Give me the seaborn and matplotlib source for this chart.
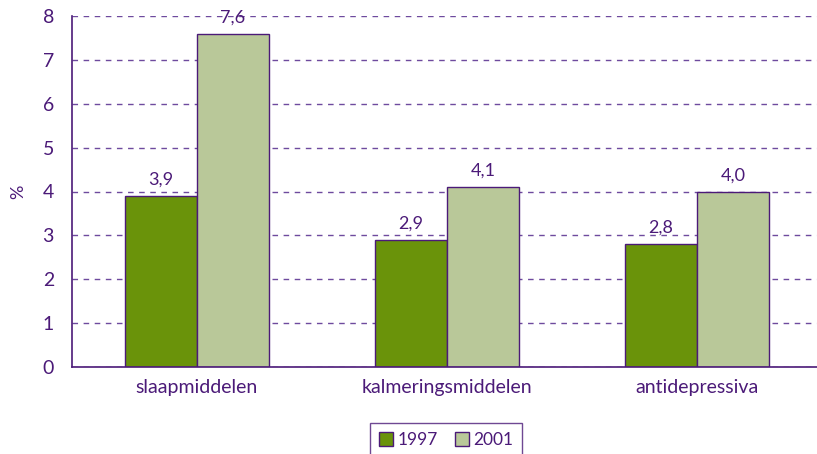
import pandas as pd
import numpy as np
import matplotlib.pyplot as plt
import seaborn as sns

categories = ["slaapmiddelen", "kalmeringsmiddelen", "antidepressiva"]
years = ["1997", "2001"]
values_1997 = [3.9, 2.9, 2.8]
values_2001 = [7.6, 4.1, 4.0]

purple = "#4B1A78"
grid_purple = "#6E4A9E"

df = pd.DataFrame({
    "categorie": categories * 2,
    "jaar": [years[0]] * 3 + [years[1]] * 3,
    "pct": values_1997 + values_2001,
})

sns.set_style("white")
plt.rcParams["font.family"] = ["Lato", "DejaVu Sans"]

fig = plt.figure(figsize=(8.17, 4.54), dpi=100)
ax = fig.add_axes([72 / 817, 87 / 454, 750 / 817, 351 / 454])

sns.barplot(data=df, x="categorie", y="pct", hue="jaar", ax=ax,
            palette=["#6A930A", "#B9C899"], width=0.576, gap=0,
            edgecolor=purple, linewidth=1.0, saturation=1)

ax.set_ylim(0, 8)
ax.set_xlim(-0.5, 2.5)
ax.set_yticks(range(0, 9))
ax.yaxis.grid(True, linestyle=(0, (4, 4)), color=grid_purple, linewidth=1.0)
ax.set_axisbelow(True)

for c in ax.containers:
    ax.bar_label(c, labels=[f"{v:.1f}".replace(".", ",") for v in c.datavalues],
                 padding=6, color=purple, fontsize=13)

for s in ["top", "right"]:
    ax.spines[s].set_visible(False)
for s in ["left", "bottom"]:
    ax.spines[s].set_color(purple)
    ax.spines[s].set_linewidth(1.2)

ax.set_xticks([-0.5, 0.5, 1.5, 2.5], minor=True)
ax.tick_params(axis="x", which="major", length=0, labelsize=14, colors=purple, pad=9)
ax.tick_params(axis="x", which="minor", length=6, color=purple, direction="in")
ax.tick_params(axis="y", length=7, color=purple, labelcolor=purple, labelsize=14, direction="out", pad=6)
ax.set_xlabel("")
ax.set_ylabel("%", color=purple, fontsize=13, labelpad=12)

leg = ax.legend(loc="center", bbox_to_anchor=(446 / 817, 14 / 454), bbox_transform=fig.transFigure,
                ncol=2, frameon=True, fancybox=False, fontsize=12.5, handlelength=0.8, handleheight=0.8,
                handletextpad=0.25, columnspacing=1.0, borderpad=0.5)
leg.get_frame().set_edgecolor(purple)
leg.get_frame().set_linewidth(1.0)
for t in leg.get_texts():
    t.set_color(purple)

fig.savefig("out.png", dpi=100)
